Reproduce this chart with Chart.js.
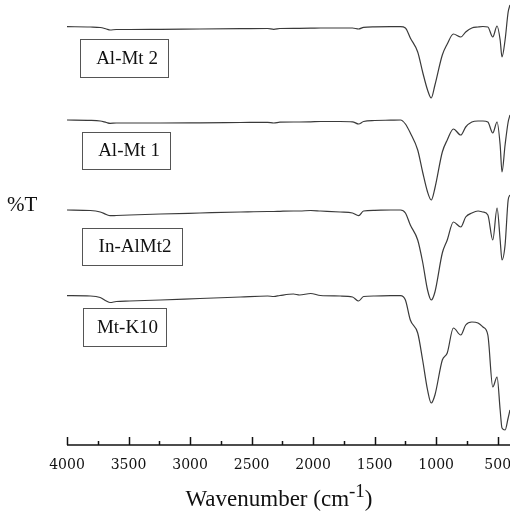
<!DOCTYPE html>
<html>
<head>
<meta charset="utf-8">
<script src="https://cdn.jsdelivr.net/npm/chart.js@4"></script>
<style>
  html, body { margin: 0; padding: 0; background: #fff; }
  #wrap { width: 510px; height: 511px; position: relative; }
</style>
</head>
<body>
<div id="wrap"><canvas id="ftir"></canvas></div>
<script>
// wavenumber grid (cm-1), shared by all spectra
const wavenumbers = [4000, 3810, 3730, 3680, 3650, 3600, 3490, 3240, 2920, 2590, 2370, 2320, 2270, 2160, 2110, 2020, 1940, 1780, 1680, 1630, 1590, 1500, 1370, 1290, 1250, 1210, 1150, 1110, 1070, 1040, 1010, 950, 910, 860, 800, 760, 710, 660, 620, 580, 540, 505, 480, 465, 440, 415, 400];

// %T, stacked with an offset (arbitrary units)
const alMt2 = [418.3, 418, 417.5, 416, 415, 415.5, 415.5, 415.7, 416, 416.3, 416.5, 415.7, 416.5, 416.7, 416.7, 416.8, 417, 417, 417, 416, 417.7, 418.2, 418.3, 418.3, 417, 407, 393, 373, 355, 347, 360, 390, 401, 411, 408, 413, 417, 418, 418.5, 418, 408, 419, 405, 388, 405, 433, 440];
const alMt1 = [325, 324.7, 324, 322.5, 321.7, 322, 322, 322, 322.2, 322.5, 322.7, 322, 322.8, 323, 323, 323.2, 323.5, 323.5, 323.2, 321, 323.5, 324.5, 324.8, 325, 321, 312, 295, 273, 253, 245, 257, 293, 305, 316, 310, 318, 323, 324, 324, 323, 312, 323, 300, 273, 300, 323, 330];
const inAlMt2 = [235, 234.5, 233, 230.5, 229.3, 229.5, 230, 231, 232, 233, 233.5, 233.5, 233.7, 234, 234, 234.5, 234, 233, 232, 229.3, 234, 234.7, 235, 235, 232, 220, 205, 183, 155, 145, 153, 192, 205, 223, 218, 228, 232, 234, 233, 230, 205, 237, 205, 185, 200, 245, 250];
const mtK10 = [149.3, 149, 147.5, 144, 142.5, 143.5, 144, 145, 146.5, 148, 149, 148.5, 149.5, 151, 150, 151.5, 149.5, 149, 148, 144, 148.5, 149, 149.3, 149.3, 145, 125, 112, 85, 55, 42, 50, 85, 92, 117, 110, 120, 123, 122, 118, 110, 58, 68, 35, 17, 15, 27, 35];

const seriesNames = ['Al-Mt 2', 'Al-Mt 1', 'In-AlMt2', 'Mt-K10'];
const xMajorTicks = [4000, 3500, 3000, 2500, 2000, 1500, 1000, 500];
const xMinorTicks = [3750, 3250, 2750, 2250, 1750, 1250, 750];

const lineColor = '#3a3a3a';
const toPoints = (vals) => vals.map((v, i) => ({ x: wavenumbers[i], y: v }));

// label boxes next to each trace
const labelBoxes = [
    { text: seriesNames[0], x: 80, y: 39, w: 88, h: 38 },
    { text: seriesNames[1], x: 82, y: 132, w: 88, h: 37 },
    { text: seriesNames[2], x: 82, y: 228, w: 100, h: 37 },
    { text: seriesNames[3], x: 83, y: 308, w: 83, h: 38 }
];

const decorPlugin = {
    id: 'decor',
    afterDraw(chart) {
        const ctx = chart.ctx;
        const xs = chart.scales.x;
        const area = chart.chartArea;
        const yAxis = area.bottom;
        ctx.save();
        ctx.strokeStyle = '#111';
        ctx.lineWidth = 1.5;
        ctx.beginPath();
        ctx.moveTo(area.left, yAxis);
        ctx.lineTo(area.right, yAxis);
        ctx.stroke();

        xMajorTicks.forEach(v => {
            const px = Math.round(xs.getPixelForValue(v)) + 0.5;
            ctx.beginPath();
            ctx.moveTo(px, yAxis);
            ctx.lineTo(px, yAxis - 8);
            ctx.stroke();
        });
        xMinorTicks.forEach(v => {
            const px = Math.round(xs.getPixelForValue(v)) + 0.5;
            ctx.beginPath();
            ctx.moveTo(px, yAxis);
            ctx.lineTo(px, yAxis - 4);
            ctx.stroke();
        });

        ctx.fillStyle = '#111';
        ctx.font = '14px "DejaVu Serif"';
        ctx.textAlign = 'center';
        ctx.textBaseline = 'middle';
        xMajorTicks.forEach(v => {
            ctx.fillText(String(v), xs.getPixelForValue(v), 465);
        });

        // axis title with superscript
        ctx.textBaseline = 'alphabetic';
        ctx.textAlign = 'left';
        const main = 'Wavenumber (cm';
        ctx.font = '23px "Liberation Serif"';
        const wMain = ctx.measureText(main).width;
        ctx.font = '19px "Liberation Serif"';
        const wSup = ctx.measureText('-1').width;
        ctx.font = '23px "Liberation Serif"';
        const wClose = ctx.measureText(')').width;
        let tx = 279 - (wMain + wSup + wClose) / 2;
        ctx.fillText(main, tx, 506);
        tx += wMain;
        ctx.font = '19px "Liberation Serif"';
        ctx.fillText('-1', tx, 497);
        tx += wSup;
        ctx.font = '23px "Liberation Serif"';
        ctx.fillText(')', tx, 506);

        // y label
        ctx.font = '21px "Liberation Serif"';
        ctx.textBaseline = 'middle';
        ctx.fillText('%T', 7, 205);

        // sample boxes
        ctx.strokeStyle = '#555';
        ctx.lineWidth = 1;
        ctx.font = '19px "Liberation Serif"';
        ctx.textAlign = 'center';
        labelBoxes.forEach(b => {
            ctx.strokeRect(b.x + 0.5, b.y + 0.5, b.w, b.h);
            ctx.fillText(b.text, b.x + b.w / 2 + 3, b.y + b.h / 2 + 1);
        });
        ctx.restore();
    }
};

const datasets = [alMt2, alMt1, inAlMt2, mtK10].map((vals, i) => ({
    label: seriesNames[i],
    data: toPoints(vals),
    borderColor: lineColor,
    borderWidth: 1.2,
    pointRadius: 0,
    fill: false,
    cubicInterpolationMode: 'monotone'
}));

new Chart(document.getElementById('ftir'), {
    type: 'line',
    data: { datasets },
    options: {
        responsive: true,
        maintainAspectRatio: false,
        animation: false,
        layout: { padding: { left: 67, right: 0, top: 0, bottom: 66 } },
        scales: {
            x: { type: 'linear', min: 400, max: 4000, reverse: true, display: false },
            y: { min: 0, max: 445, display: false }
        },
        plugins: {
            legend: { display: false },
            tooltip: { enabled: false }
        }
    },
    plugins: [decorPlugin]
});
</script>
</body>
</html>
